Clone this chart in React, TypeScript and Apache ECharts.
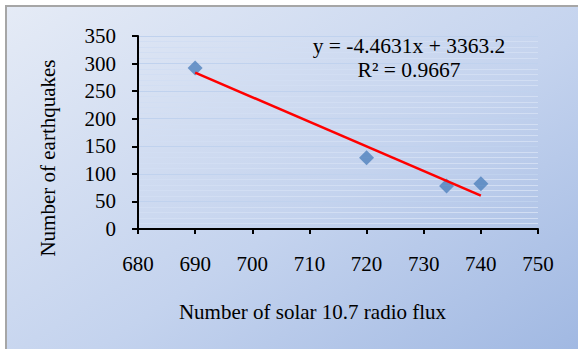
import React, { useEffect, useRef } from "react";
import * as echarts from "echarts";

const solarFlux = [690, 720, 734, 740];
const earthquakes = [292, 129, 78, 82];
const slope = -4.4631;
const intercept = 3363.2;
const trendX = [690, 740];
const equationText = "y = -4.4631x + 3363.2";
const r2Text = "R² = 0.9667";
const xTitle = "Number of solar 10.7 radio flux";
const yTitle = "Number of earthquakes";

const FONT = "'Liberation Serif', 'Times New Roman', serif";

export default function App() {
  const ref = useRef<HTMLDivElement>(null);
  useEffect(() => {
    if (!ref.current) return;
    const chart = echarts.init(ref.current, undefined, { renderer: "svg" });
    const textStyle = (text: string, size: number) => ({
      text,
      font: `${size}px ${FONT}`,
      fill: "#000",
      align: "center",
      verticalAlign: "middle",
    });
    chart.setOption({
      animation: false,
      graphic: [
        {
          type: "rect",
          z: -100,
          silent: true,
          shape: { x: 6, y: 6, width: 620, height: 400 },
          style: {
            fill: new echarts.graphic.LinearGradient(0, 0, 1, 1, [
              { offset: 0, color: "#e5ebf6" },
              { offset: 0.5, color: "#c4d3ee" },
              { offset: 1, color: "#97b1df" },
            ]),
            stroke: "#a6a6a6",
            lineWidth: 2,
          },
        },
        { type: "text", z: 100, x: 409, y: 46, style: textStyle(equationText, 21.5) },
        { type: "text", z: 100, x: 409, y: 70, style: textStyle(r2Text, 21.5) },
        { type: "text", z: 100, x: 312.5, y: 312, style: textStyle(xTitle, 21) },
        {
          type: "text",
          z: 100,
          x: 47.5,
          y: 158,
          rotation: Math.PI / 2,
          style: textStyle(yTitle, 21),
        },
      ],
      grid: { left: 138, right: 40, top: 36, bottom: 120 },
      xAxis: {
        type: "value",
        min: 680,
        max: 750,
        interval: 10,
        axisLine: { onZero: false, lineStyle: { color: "#000", width: 2 } },
        axisTick: { length: 5, lineStyle: { color: "#000", width: 2 } },
        axisLabel: { fontFamily: FONT, fontSize: 21, color: "#000", margin: 24 },
        splitLine: { show: false },
      },
      yAxis: {
        type: "value",
        min: 0,
        max: 350,
        interval: 50,
        axisLine: { lineStyle: { color: "#000", width: 2 } },
        axisTick: { length: 6, lineStyle: { color: "#000", width: 2 } },
        axisLabel: { fontFamily: FONT, fontSize: 21, color: "#000", margin: 22 },
        splitLine: { show: true, lineStyle: { color: "#c0d2ee", width: 1 } },
        minorTick: { show: false, splitNumber: 5 },
        minorSplitLine: { show: true, lineStyle: { color: "#d2def3", width: 1 } },
      },
      series: [
        {
          type: "scatter",
          data: solarFlux.map((x, i) => [x, earthquakes[i]]),
          symbol: "diamond",
          symbolSize: 15,
          itemStyle: { color: "#4f81bd" },
          z: 3,
        },
        {
          type: "line",
          data: trendX.map((x) => [x, slope * x + intercept]),
          symbol: "none",
          lineStyle: { color: "#ff0000", width: 2.5 },
          z: 4,
        },
      ],
    });
    return () => chart.dispose();
  }, []);
  return (
    <div
      ref={ref}
      style={{ position: "absolute", left: 0, top: 0, width: 578, height: 349 }}
    />
  );
}
